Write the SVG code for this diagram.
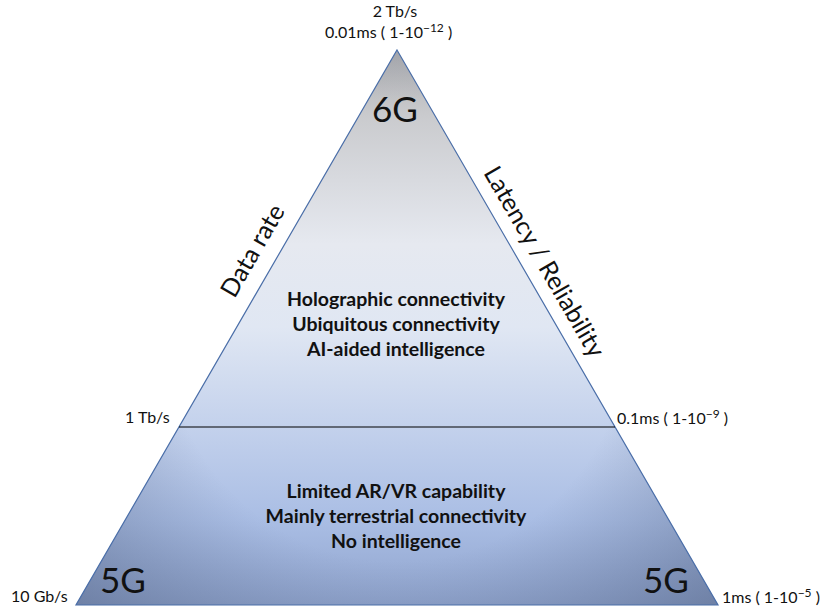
<svg xmlns="http://www.w3.org/2000/svg" width="836" height="609" viewBox="0 0 836 609">
<style>
text{font-family:Lato,"Liberation Sans",sans-serif;fill:#111}
.lbl{font-size:16px}
.sup{font-size:12px}
.body{font-size:19.5px;font-weight:bold;text-anchor:middle}
.big{font-size:35px}
.axis{font-size:25px;text-anchor:middle}
</style>
<defs>
<linearGradient id="gv" x1="0" y1="50" x2="0" y2="605" gradientUnits="userSpaceOnUse">
<stop offset="0" stop-color="#aeaeb0"/>
<stop offset="0.12" stop-color="#cacbce"/>
<stop offset="0.35" stop-color="#e6e9f0"/>
<stop offset="0.5" stop-color="#e0e7f3"/>
<stop offset="0.68" stop-color="#c3d1ec"/>
<stop offset="0.85" stop-color="#a9bde4"/>
<stop offset="1" stop-color="#8fa3cc"/>
</linearGradient>
<radialGradient id="gr" cx="397" cy="330" r="420" gradientUnits="userSpaceOnUse">
<stop offset="0" stop-color="#4f5f80" stop-opacity="0"/>
<stop offset="0.55" stop-color="#4f5f80" stop-opacity="0"/>
<stop offset="1" stop-color="#4f5f80" stop-opacity="0.5"/>
</radialGradient>
</defs>
<g id="pyramid">
<polygon points="397,50 718,605 76,605" fill="url(#gv)"/>
<polygon points="397,50 718,605 76,605" fill="url(#gr)" stroke="#4a6ea8" stroke-width="1.2"/>
</g>
<g id="connectors">
<line x1="179" y1="427" x2="615" y2="427" stroke="#000" stroke-width="1.2"/>
</g>
<g id="top-labels">
<text class="lbl" x="395" y="17" text-anchor="middle">2 Tb/s</text>
<text class="lbl" x="325" y="38">0.01ms ( 1-10<tspan class="sup" dy="-6">−12</tspan><tspan dy="6"> )</tspan></text>
</g>
<g id="node-6g">
<text class="big" x="395" y="122" text-anchor="middle">6G</text>
<text class="body" x="396" y="306">Holographic connectivity</text>
<text class="body" x="396" y="331">Ubiquitous connectivity</text>
<text class="body" x="396" y="356">AI-aided intelligence</text>
</g>
<g id="mid-labels">
<text class="lbl" x="125" y="423">1 Tb/s</text>
<text class="lbl" x="617" y="424">0.1ms ( 1-10<tspan class="sup" dy="-6">−9</tspan><tspan dy="6"> )</tspan></text>
</g>
<g id="node-5g">
<text class="body" x="396" y="498">Limited AR/VR capability</text>
<text class="body" x="396" y="523">Mainly terrestrial connectivity</text>
<text class="body" x="396" y="548">No intelligence</text>
<text class="big" x="100" y="593">5G</text>
<text class="big" x="643" y="593">5G</text>
</g>
<g id="bottom-labels">
<text class="lbl" x="11" y="602">10 Gb/s</text>
<text class="lbl" x="722" y="603">1ms ( 1-10<tspan class="sup" dy="-6">−5</tspan><tspan dy="6"> )</tspan></text>
</g>
<g id="axis-labels">
<text class="axis" transform="translate(260,255) rotate(-60)">Data rate</text>
<text class="axis" transform="translate(537,266) rotate(60)">Latency / Reliability</text>
</g>
</svg>
